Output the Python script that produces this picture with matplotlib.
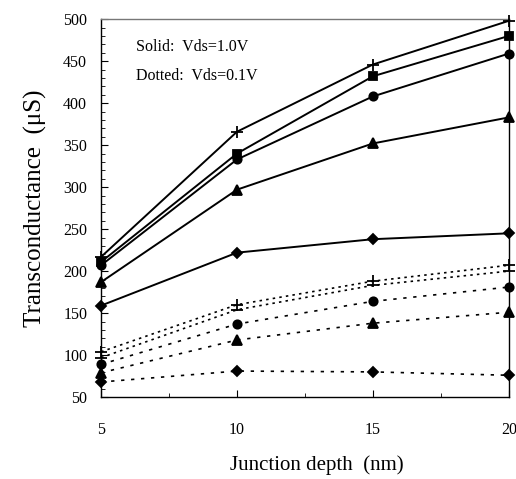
import matplotlib
matplotlib.use('Agg')
from matplotlib import pyplot as plt
from matplotlib.ticker import MultipleLocator

plt.rcParams['font.family'] = ['Liberation Serif', 'DejaVu Serif']

depth = [5, 10, 15, 20]

# Vds = 1.0V (solid)
solidPlus = [217, 366, 446, 498]
solidSquare = [211, 340, 432, 480]
solidCircle = [207, 333, 408, 459]
solidTriangle = [187, 297, 352, 383]
solidDiamond = [159, 222, 238, 245]

# Vds = 0.1V (dotted)
dotPlus = [104, 160, 188, 207]
dotSquare = [97, 154, 183, 200]
dotCircle = [89, 137, 164, 181]
dotTriangle = [79, 118, 138, 151]
dotDiamond = [68, 81, 80, 76]

sizes = {'+': 9, 's': 6, 'o': 6, '^': 7, 'D': 5.3, '_': 9}

fig = plt.figure(figsize=(5.16, 4.79), dpi=100)
ax = fig.add_axes([0.196, 0.171, 0.790, 0.789])

solid = [(solidPlus, '+'), (solidSquare, 's'), (solidCircle, 'o'),
         (solidTriangle, '^'), (solidDiamond, 'D')]
for vals, m in solid:
    ax.plot(depth, vals, color='black', lw=1.4, marker=m, ms=sizes[m],
            mew=1.3, clip_on=False, zorder=3)

dotted = [(dotPlus, '+', (0, (1.5, 2.5))), (dotSquare, '_', (0, (1.5, 2.5))),
          (dotCircle, 'o', (0, (2, 4))), (dotTriangle, '^', (0, (2, 4))),
          (dotDiamond, 'D', (0, (2, 4)))]
for vals, m, ls in dotted:
    ax.plot(depth, vals, color='black', lw=1.2, ls=ls, marker=m,
            ms=sizes[m], mew=1.3, clip_on=False, zorder=3)

ax.set_xlim(5, 20)
ax.set_ylim(50, 500)
ax.set_xticks(depth)
ax.xaxis.set_minor_locator(MultipleLocator(2.5))
ax.set_yticks(range(50, 501, 50))
ax.yaxis.set_minor_locator(MultipleLocator(10))
ax.tick_params(axis='both', which='both', direction='in', top=False, right=False)
ax.tick_params(axis='y', which='major', length=5, pad=10, labelsize=11.5)
ax.tick_params(axis='y', which='minor', length=3)
ax.tick_params(axis='x', which='major', length=5, pad=18, labelsize=11.5)
ax.tick_params(axis='x', which='minor', length=3)
for s in ax.spines.values():
    s.set_linewidth(1.0)
ax.spines['top'].set_color('#777777')

ax.set_ylabel('Transconductance  (\u03bcS)', fontsize=18, labelpad=12)
ax.set_xlabel('Junction depth  (nm)', fontsize=15, labelpad=12)
ax.xaxis.set_label_coords(0.53, -0.155)

ax.text(0.085, 0.915, 'Solid:  Vds=1.0V', transform=ax.transAxes, fontsize=11.5)
ax.text(0.085, 0.84, 'Dotted:  Vds=0.1V', transform=ax.transAxes, fontsize=11.5)

fig.savefig('out.png', dpi=100)
